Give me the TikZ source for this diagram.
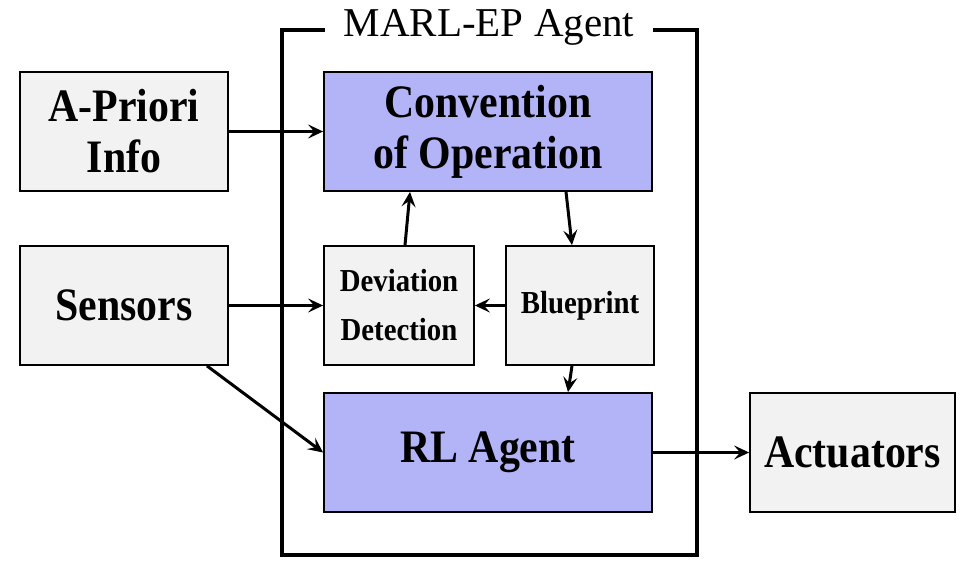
\documentclass[tikz,border=0pt]{standalone}
\usepackage{fontspec}
\setmainfont{Liberation Serif}[FakeStretch=0.9]
\newfontfamily\titlefont{Liberation Serif}
\usetikzlibrary{arrows.meta}
\definecolor{boxgray}{RGB}{242,242,242}
\definecolor{boxblue}{RGB}{179,179,247}
\tikzset{
  blk/.style={draw=black, line width=1.8pt, fill=boxgray, inner sep=0pt, align=center,
    minimum height=119pt, font=\bfseries\fontsize{46.5}{51}\selectfont},
  blkblue/.style={blk, fill=boxblue},
  smallblk/.style={blk, font=\bfseries\fontsize{32}{49}\selectfont},
  conn/.style={line width=3pt, -{Stealth[length=15pt,width=14pt,inset=6pt]}},
}
\begin{document}
\begin{tikzpicture}[x=1pt,y=-1pt]
\useasboundingbox (0,0) rectangle (976,564);
% outer box
\draw[line width=3.2pt] (282,30) rectangle (697,555);
\node[fill=white, inner xsep=19pt, inner ysep=2pt, font=\titlefont\fontsize{41}{44}\selectfont] (title) at (489,27) {MARL-EP Agent};
% blocks
\node[blk, minimum width=208pt] (apriori) at (124,131.5) {A-Priori\\Info};
\node[blk, minimum width=208pt] (sensors) at (124,305.5) {Sensors};
\node[blkblue, minimum width=328pt] (conv) at (488,131.5) {Convention\\of Operation};
\node[smallblk, minimum width=150pt] (dev) at (399,305.5) {Deviation\\Detection};
\node[smallblk, minimum width=148pt] (blue) at (580,305.5) {Blueprint};
\node[blkblue, minimum width=328pt] (rl) at (488,452.5) {RL Agent};
\node[blk, minimum width=205pt] (act) at (852.5,452.5) {Actuators};
% connectors
\draw[conn] (apriori.east) -- (conv.west);
\draw[conn] (sensors.east) -- (dev.west);
\draw[conn] (blue.west) -- (dev.east);
\draw[conn] (rl.east) -- (act.west);
\draw[conn] ([xshift=6pt]dev.north) -- ([xshift=-78pt]conv.south);
\draw[conn] ([xshift=78pt]conv.south) -- ([xshift=-8pt]blue.north);
\draw[conn] ([xshift=-8pt]blue.south) -- ([xshift=80pt]rl.north);
\draw[conn] ([xshift=83pt]sensors.south) -- (rl.west);
\end{tikzpicture}
\end{document}
